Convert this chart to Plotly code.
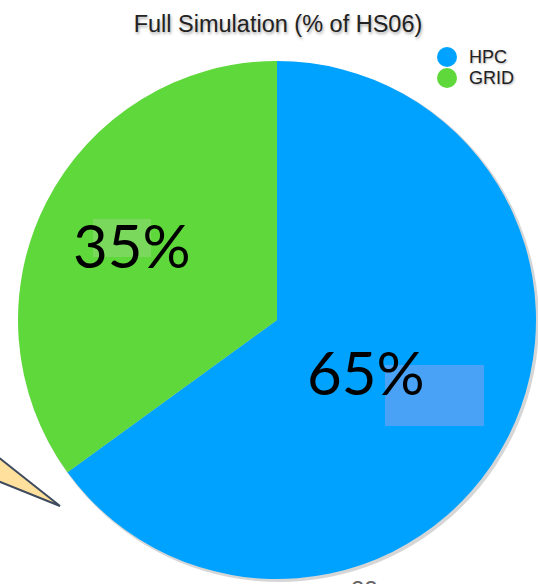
import plotly.graph_objects as go

W, H = 538, 584

categories = ["HPC", "GRID"]
values = [65, 35]
colors = ["#00A2FF", "#5ED83A"]
title_text = "Full Simulation (% of HS06)"
page_number = "22"

def px(x):
    return x / W

def py(y):
    return 1 - y / H

fig = go.Figure()
fig.add_trace(go.Pie(
    labels=categories, values=values, sort=False, direction="clockwise", rotation=0,
    marker=dict(colors=colors, line=dict(width=0)),
    textinfo="none", hoverinfo="label+percent", showlegend=False,
    domain=dict(x=[px(18), px(536)], y=[py(579), py(61)]),
))

shapes = []
# soft shadow behind pie
shapes.append(dict(type="circle", xref="paper", yref="paper", layer="below",
                   x0=px(19), x1=px(539), y0=py(582), y1=py(62),
                   fillcolor="rgba(0,0,0,0.16)", line=dict(width=0)))
# overlay rectangles
shapes.append(dict(type="rect", xref="paper", yref="paper", layer="above",
                   x0=px(385), x1=px(484), y0=py(426), y1=py(365),
                   fillcolor="#4AA2F7", line=dict(width=0)))
shapes.append(dict(type="rect", xref="paper", yref="paper", layer="above",
                   x0=px(93), x1=px(151), y0=py(257), y1=py(219),
                   fillcolor="#7AD85C", line=dict(width=0)))
# speech bubble tail
shapes.append(dict(type="path", xref="paper", yref="paper", layer="above",
                   path=f"M {px(-2)} {py(457)} L {px(60)} {py(506)} L {px(-2)} {py(481)} Z",
                   fillcolor="#FFE09C", line=dict(color="#3E4A5E", width=2)))

annotations = []
# legend
leg_y = [57, 78]
for cat, col, yy in zip(categories, colors, leg_y):
    shapes.append(dict(type="circle", xref="paper", yref="paper",
                       x0=px(437), x1=px(457), y0=py(yy + 10), y1=py(yy - 10),
                       fillcolor=col, line=dict(width=0)))
    annotations.append(dict(text=cat, xref="paper", yref="paper", x=px(467), y=py(yy),
                            xanchor="left", yanchor="middle", showarrow=False,
                            font=dict(family="Liberation Sans, Arial", size=18, color="#222222",
                                      shadow="1px 1px 2px rgba(0,0,0,0.3)")))

# percentage labels
total = sum(values)
label_pos = {"HPC": (366, 372), "GRID": (132, 245)}
for cat, v in zip(categories, values):
    x, y = label_pos[cat]
    annotations.append(dict(text=f"{round(100 * v / total)}%", xref="paper", yref="paper",
                            x=px(x), y=py(y), xanchor="center", yanchor="middle", showarrow=False,
                            font=dict(family="Lato, Open Sans", size=60, color="#000000")))

# page number (cut by the bottom edge, as in the reference)
annotations.append(dict(text=page_number, xref="paper", yref="paper", x=px(364), y=py(574),
                        xanchor="center", yanchor="top", showarrow=False,
                        font=dict(family="Liberation Sans, Arial", size=24, color="#666666")))

fig.update_layout(
    width=W, height=H,
    margin=dict(l=0, r=0, t=0, b=0),
    paper_bgcolor="white", plot_bgcolor="white",
    title=dict(text=title_text, x=px(278), xanchor="center", y=py(24), yanchor="middle",
               yref="container",
               font=dict(family="Liberation Sans, Arial", size=23.5, color="#222222",
                         shadow="1px 2px 3px rgba(0,0,0,0.35)")),
    shapes=shapes, annotations=annotations,
)

fig.write_html("out.html")
